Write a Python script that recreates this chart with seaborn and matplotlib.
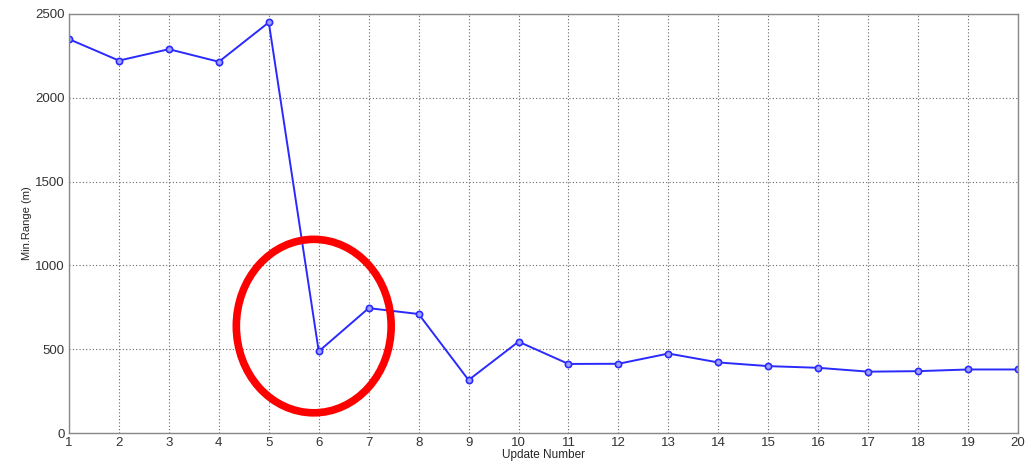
import matplotlib
matplotlib.use('Agg')
import matplotlib.pyplot as plt
from matplotlib.patches import Ellipse
import pandas as pd
import seaborn as sns

update_number = list(range(1, 21))
min_range = [2350, 2222, 2290, 2215, 2450, 487, 745, 710, 316, 545,
             412, 413, 474, 421, 399, 389, 366, 369, 379, 379]

data = pd.DataFrame({'Update Number': update_number, 'Min.Range (m)': min_range})

sns.set_style('white')
plt.rcParams['font.family'] = ['Liberation Sans', 'DejaVu Sans']

fig = plt.figure(figsize=(10.26, 4.61), dpi=100)
ax = fig.add_axes([69 / 1026, 1 - 433 / 461, 949 / 1026, 419 / 461])

sns.lineplot(data=data, x='Update Number', y='Min.Range (m)', ax=ax,
             color='#2a2aff', linewidth=1.4, marker='o', markersize=4.5,
             markerfacecolor='#a0a0ff', markeredgecolor='#2a2aff', markeredgewidth=1.2)

# rode Ellipse rond update 6
ax.add_patch(Ellipse((5.9, 638), 3.1, 1035, fill=False, edgecolor='#ff0000',
                     linewidth=5.5, zorder=5, clip_on=False))

ax.set_xlim(1, 20)
ax.set_ylim(0, 2500)
ax.set_xticks(update_number)
ax.set_yticks([0, 500, 1000, 1500, 2000, 2500])
ax.grid(True, linestyle=(0, (1, 2)), color='#666666', linewidth=0.8)
ax.tick_params(direction='in', length=4, labelsize=9.5, colors='#333333', pad=3)
for s in ax.spines.values():
    s.set_color('#888888')
    s.set_linewidth(1.0)

ax.set_xlabel('Update Number', fontsize=8.5, labelpad=0)
ax.set_ylabel('Min.Range (m)', fontsize=8, labelpad=2)

fig.savefig('out.png', dpi=100)
